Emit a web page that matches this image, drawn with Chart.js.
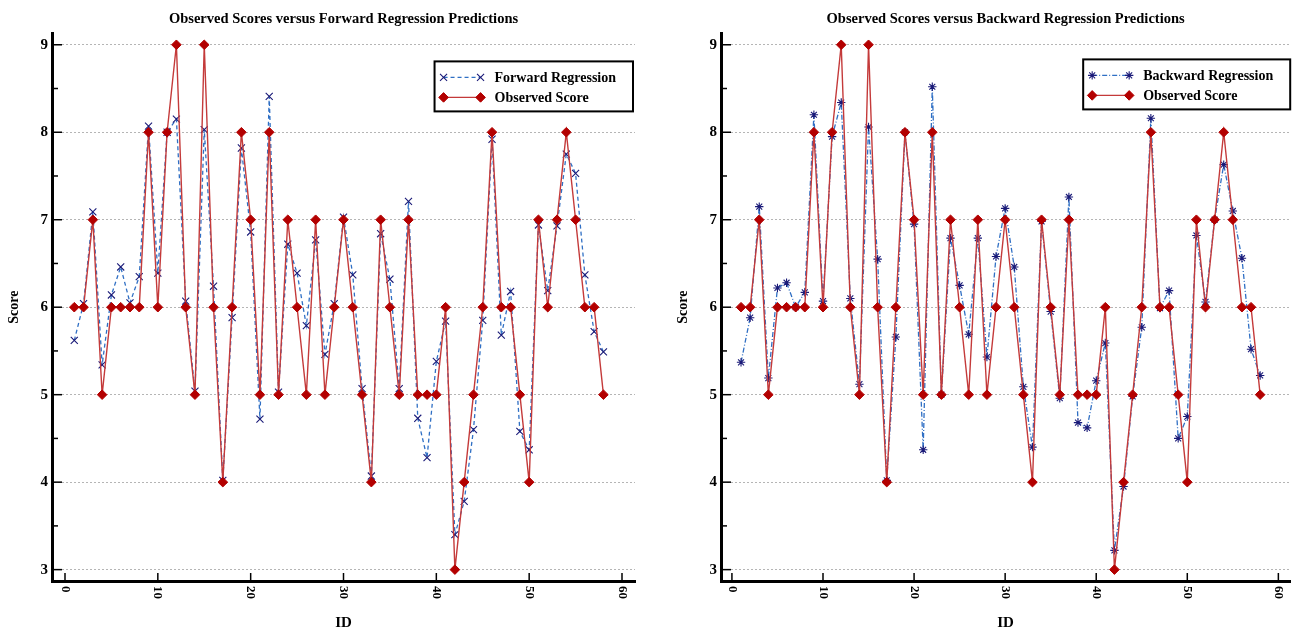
<!DOCTYPE html>
<html>
<head>
<meta charset="utf-8">
<script src="https://cdn.jsdelivr.net/npm/chart.js@4.4.0/dist/chart.umd.min.js"></script>
<style>
	html, body { margin: 0; padding: 0; background: #fff; overflow: hidden; }
	.panel { position: absolute; top: 0; height: 628px; }
	#leftPanel { left: 0; width: 645px; }
	#rightPanel { left: 669px; width: 627px; }
</style>
</head>
<body>
<div class="panel" id="leftPanel"><canvas id="forwardChart" width="645" height="628"></canvas></div>
<div class="panel" id="rightPanel"><canvas id="backwardChart" width="627" height="628"></canvas></div>
<script>
const ids = [1, 2, 3, 4, 5, 6, 7, 8, 9, 10, 11, 12, 13, 14, 15, 16, 17, 18, 19, 20,
	21, 22, 23, 24, 25, 26, 27, 28, 29, 30, 31, 32, 33, 34, 35, 36, 37, 38, 39, 40,
	41, 42, 43, 44, 45, 46, 47, 48, 49, 50, 51, 52, 53, 54, 55, 56, 57, 58];

const observedScore = [6, 6, 7, 5, 6, 6, 6, 6, 8, 6, 8, 9, 6, 5, 9, 6, 4, 6, 8, 7,
	5, 8, 5, 7, 6, 5, 7, 5, 6, 7, 6, 5, 4, 7, 6, 5, 7, 5, 5, 5,
	6, 3, 4, 5, 6, 8, 6, 6, 5, 4, 7, 6, 7, 8, 7, 6, 6, 5];

const forwardPred = [5.62, 6.04, 7.09, 5.34, 6.14, 6.46, 6.05, 6.35, 8.07, 6.39,
	8.00, 8.15, 6.07, 5.04, 8.03, 6.24, 4.02, 5.88, 7.82, 6.86,
	4.72, 8.41, 5.03, 6.72, 6.39, 5.79, 6.77, 5.46, 6.04, 7.03,
	6.37, 5.07, 4.07, 6.84, 6.32, 5.07, 7.21, 4.73, 4.28, 5.38,
	5.84, 3.40, 3.78, 4.60, 5.85, 7.92, 5.68, 6.18, 4.58, 4.37,
	6.94, 6.19, 6.93, 7.75, 7.53, 6.37, 5.72, 5.49];

const backwardPred = [5.37, 5.88, 7.15, 5.19, 6.22, 6.28, 6.00, 6.17, 8.20, 6.07,
	7.95, 8.34, 6.10, 5.12, 8.06, 6.55, 4.02, 5.66, 8.00, 6.95,
	4.37, 8.52, 5.00, 6.79, 6.25, 5.69, 6.79, 5.43, 6.58, 7.13,
	6.46, 5.09, 4.40, 6.98, 5.95, 4.96, 7.26, 4.68, 4.62, 5.16,
	5.59, 3.22, 3.95, 4.98, 5.77, 8.16, 5.99, 6.19, 4.50, 4.75,
	6.82, 6.06, 7.00, 7.63, 7.10, 6.56, 5.52, 5.22];

const yTicks = [3, 4, 5, 6, 7, 8, 9];
const yMinorTicks = [3.5, 4.5, 5.5, 6.5, 7.5, 8.5];
const xTicks = [0, 10, 20, 30, 40, 50, 60];

const SERIF = "'Liberation Serif', 'Times New Roman', serif";

const toPoints = (values) => values.map((v, i) => ({ x: ids[i], y: v }));

// tick marks drawn inward, like the original plot
const innerTicks = {
	id: "innerTicks",
	beforeDatasetsDraw(chart) {
		const { ctx, chartArea: area, scales: { x, y } } = chart;
		ctx.save();
		ctx.strokeStyle = "#000";
		ctx.lineWidth = 1.5;
		const line = (x1, y1, x2, y2) => {
			ctx.beginPath();
			ctx.moveTo(x1, y1);
			ctx.lineTo(x2, y2);
			ctx.stroke();
		};
		yTicks.forEach((v) => line(area.left, y.getPixelForValue(v), area.left + 10, y.getPixelForValue(v)));
		yMinorTicks.forEach((v) => line(area.left, y.getPixelForValue(v), area.left + 6, y.getPixelForValue(v)));
		xTicks.forEach((v) => line(x.getPixelForValue(v), area.bottom, x.getPixelForValue(v), area.bottom - 8));
		ctx.restore();
	},
	afterDraw(chart) {
		// x tick labels turned clockwise
		const { ctx, scales: { x } } = chart;
		ctx.save();
		ctx.font = "bold 13px " + SERIF;
		ctx.fillStyle = "#000";
		ctx.textAlign = "left";
		ctx.textBaseline = "middle";
		x.ticks.forEach((t) => {
			ctx.save();
			ctx.translate(x.getPixelForValue(t.value), x.top + 5);
			ctx.rotate(Math.PI / 2);
			ctx.fillText(String(t.value), 0, 0);
			ctx.restore();
		});
		ctx.restore();
	},
};

const drawMarker = (ctx, ds, px, py) => {
	ctx.save();
	ctx.setLineDash([]);
	ctx.fillStyle = ds.pointBackgroundColor;
	ctx.strokeStyle = ds.pointBorderColor;
	ctx.lineWidth = ds.pointBorderWidth;
	Chart.helpers.drawPoint(ctx, {
		pointStyle: ds.pointStyle,
		radius: ds.pointRadius,
		borderWidth: ds.pointBorderWidth,
		rotation: 0,
	}, px, py);
	ctx.restore();
};

// boxed legend inside the plot, top right
const boxLegend = {
	id: "boxLegend",
	afterDraw(chart, args, opts) {
		const { ctx, chartArea: area } = chart;
		const datasets = chart.data.datasets;
		ctx.save();
		ctx.font = "bold 14px " + SERIF;
		const textW = Math.max(...datasets.map((d) => ctx.measureText(d.label).width));
		const w = 60 + textW + 17;
		const h = 50;
		const x0 = area.right - opts.right - w;
		const y0 = area.top + opts.top;
		ctx.fillStyle = "#fff";
		ctx.fillRect(x0, y0, w, h);
		ctx.lineWidth = 2;
		ctx.strokeStyle = "#000";
		ctx.strokeRect(x0, y0, w, h);
		datasets.forEach((ds, i) => {
			const rowY = y0 + 16 + i * 20;
			ctx.save();
			ctx.strokeStyle = ds.borderColor;
			ctx.lineWidth = ds.borderWidth;
			ctx.setLineDash(ds.borderDash || []);
			ctx.beginPath();
			ctx.moveTo(x0 + 9, rowY);
			ctx.lineTo(x0 + 46, rowY);
			ctx.stroke();
			ctx.restore();
			drawMarker(ctx, ds, x0 + 9, rowY);
			drawMarker(ctx, ds, x0 + 46, rowY);
			ctx.fillStyle = "#000";
			ctx.textAlign = "left";
			ctx.textBaseline = "middle";
			ctx.fillText(ds.label, x0 + 60, rowY + 1);
		});
		ctx.restore();
	},
};

const observedDataset = () => ({
	label: "Observed Score",
	data: toPoints(observedScore),
	borderColor: "#c43a3a",
	borderWidth: 1.4,
	pointStyle: "rectRot",
	pointRadius: 4.8,
	pointBackgroundColor: "#b30000",
	pointBorderColor: "#b30000",
	pointBorderWidth: 1,
	order: 0,
});

const createChart = (ctx, cfg) => {
	return new Chart(ctx, {
		type: "line",
		data: {
			datasets: [
				{
					label: cfg.label,
					data: toPoints(cfg.values),
					borderColor: "#2f6fc4",
					borderWidth: 1.3,
					borderDash: cfg.dash,
					pointStyle: cfg.marker,
					pointRadius: cfg.markerSize,
					pointBackgroundColor: "#1a1a78",
					pointBorderColor: "#1a1a78",
					pointBorderWidth: 1.1,
					order: 1,
				},
				observedDataset(),
			],
		},
		options: {
			responsive: false,
			animation: false,
			layout: { padding: { left: 0, right: cfg.padRight, top: 0, bottom: 0 } },
			scales: {
				x: {
					type: "linear",
					min: cfg.xMin,
					max: cfg.xMax,
					afterBuildTicks: (s) => { s.ticks = xTicks.map((v) => ({ value: v })); },
					afterFit: (s) => { s.height = 47; },
					grid: { display: false },
					border: { display: true, width: 3, color: "#000" },
					ticks: { display: false },
					title: {
						display: true,
						text: "ID",
						color: "#000",
						font: { family: SERIF, size: 15, weight: "bold" },
						padding: { top: 0, bottom: -4 },
					},
				},
				y: {
					min: 2.87,
					max: 9.13,
					afterBuildTicks: (s) => { s.ticks = yTicks.map((v) => ({ value: v })); },
					afterFit: (s) => { s.width = 52; },
					grid: { color: "#b5b5b5", lineWidth: 1, drawTicks: false },
					border: { display: true, width: 3, color: "#000", dash: [2, 2] },
					ticks: {
						color: "#000",
						padding: 4,
						font: { family: SERIF, size: 15, weight: "bold" },
					},
					title: {
						display: true,
						text: "Score",
						color: "#000",
						font: { family: SERIF, size: 14, weight: "bold" },
						padding: { top: 6, bottom: 0 },
					},
				},
			},
			plugins: {
				legend: { display: false },
				tooltip: { enabled: false },
				title: {
					display: true,
					text: cfg.title,
					color: "#000",
					fullSize: false,
					font: { family: SERIF, size: 14.5, weight: "bold" },
					padding: { top: 11, bottom: 5 },
				},
				boxLegend: { right: cfg.legendRight, top: cfg.legendTop },
			},
		},
		plugins: [innerTicks, boxLegend],
	});
};

createChart(document.getElementById("forwardChart").getContext("2d"), {
	title: "Observed Scores versus Forward Regression Predictions",
	label: "Forward Regression",
	values: forwardPred,
	dash: [4, 3],
	marker: "crossRot",
	markerSize: 5,
	xMin: -1.4,
	xMax: 61.4,
	padRight: 10,
	legendRight: 2,
	legendTop: 28,
});

createChart(document.getElementById("backwardChart").getContext("2d"), {
	title: "Observed Scores versus Backward Regression Predictions",
	label: "Backward Regression",
	values: backwardPred,
	dash: [5, 2, 1, 2],
	marker: "star",
	markerSize: 4.2,
	xMin: -1.2,
	xMax: 61.3,
	padRight: 3,
	legendRight: 0,
	legendTop: 26,
});
</script>
</body>
</html>
